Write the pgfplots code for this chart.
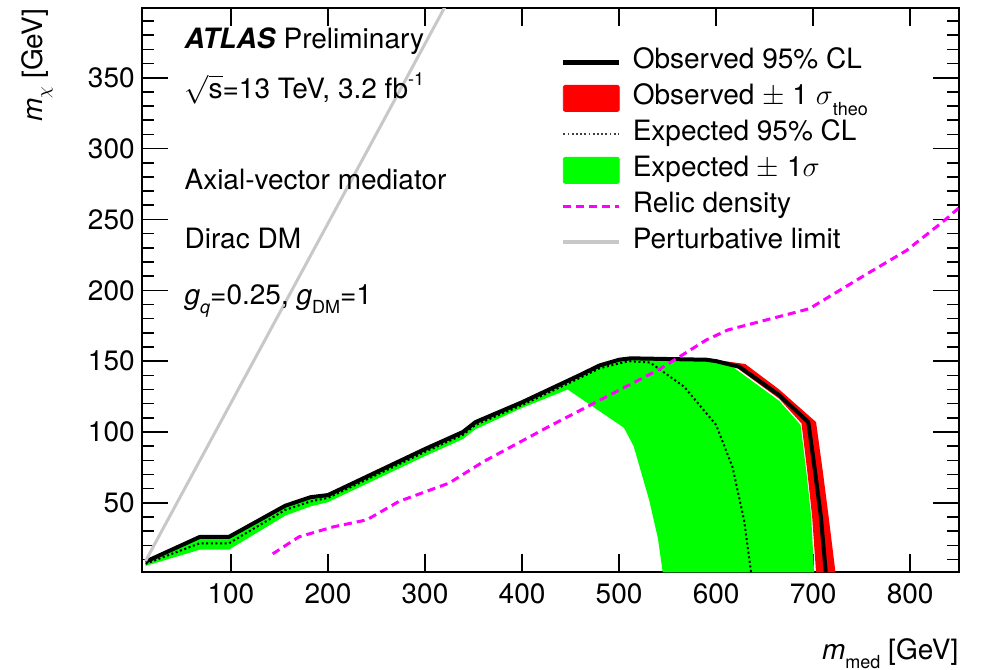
\documentclass[border=0pt]{standalone}
\usepackage{fontspec}
\setmainfont{TeX Gyre Heros}
\usepackage{pgfplots}
\pgfplotsset{compat=1.18}

\definecolor{bandgreen}{RGB}{0,255,0}
\definecolor{bandred}{RGB}{255,0,0}
\definecolor{relicmagenta}{RGB}{255,0,255}
\definecolor{pertgray}{RGB}{200,200,200}

% lowered / raised small indices in the ROOT style
\newcommand{\lowsub}[2][0.32em]{\raisebox{-#1}{\fontsize{9}{9}\selectfont #2}}
\newcommand{\highsup}[1]{\raisebox{0.45em}{\fontsize{9}{9}\selectfont #1}}

% observed 95% CL limit contour
\pgfplotstableread{
x y
12 8.5
68 26
98 26
156 48
182 54
200 55.5
260 75
300 88
339 100
352 107
400 121
459 140
480 147
500 151
512 152
590 151
600 150
624 146
665 126
695 107
702 72
708 40
713 1
}\observed

% expected 95% CL limit contour
\pgfplotstableread{
x y
12 7
68 21.5
98 21.5
156 45
182 51
200 53.5
300 86
339 98
352 105
400 119
459 138
480 145
510 150
532 149
567 132
600 105
617 75
629 37
636 1
}\expected

% expected +-1 sigma band (closed outline)
\pgfplotstableread{
x y
12 9
68 26
98 26
156 48
182 54
200 55.5
260 75
300 88
339 100
352 107
400 121
459 140
480 147
500 151
512 152
590 151
600 150
615 147
665 122
687 105
693 72
698 40
701 1
545 1
540 25
531 52
515 90
505 103
447 130
400 117
352 102
339 95
300 83
200 50.5
182 47.5
156 41
98 17
68 17
12 5.5
}\expband

% observed +-1 sigma(theo) band (closed outline)
\pgfplotstableread{
x y
598 151
630 148
665 130
703 107
710 72
716 40
723 1
703 1
699 40
694 72
688 106
665 123.5
615 148.5
598 150.5
}\theoband

% relic density line
\pgfplotstableread{
x y
143 14
170 26
205 33
240 38
273 51
325 64
360 79
428 104
476 121
541 144
590 165
612 172
696 187
754 211
796 228
833 248
850 258
}\relic

% perturbative unitarity limit
\pgfplotstableread{
x y
12 9
330 412
}\pertlimit

\begin{document}
\begin{tikzpicture}
\begin{axis}[
  scale only axis,
  width=408.5pt, height=282pt,
  xmin=8, xmax=850, ymin=1, ymax=399,
  axis line style={line width=1pt},
  tick align=inside,
  xtick=\empty, ytick={50,100,...,350},
  minor xtick={20,40,...,840},
  minor ytick={10,20,...,390},
  extra x ticks={100,200,...,800},
  extra x tick style={major tick length=9pt},
  major tick length=13pt, minor tick length=6pt,
  every tick/.style={black, line width=0.8pt},
  font=\fontsize{14}{16.8}\selectfont,
  /pgf/number format/assume math mode=true,
  xticklabel style={inner sep=0pt, yshift=-5.3pt, font=\fontsize{14}{16.8}\selectfont},
  yticklabel style={inner sep=0pt, xshift=-3.3pt, font=\fontsize{14}{16.8}\selectfont},
  xlabel={\textit{m}\lowsub{med} [GeV]},
  ylabel={\textit{m}\lowsub[0.25em]{$\chi$} [GeV]},
  xlabel style={at={(axis description cs:1,-0.155)}, anchor=base east, inner sep=0pt},
  ylabel style={at={(axis description cs:-0.122,1.0)}, anchor=base east, inner sep=0pt},
  legend style={at={(axis description cs:0.513,0.936)}, anchor=north west,
    draw=none, fill=none, inner sep=0pt, outer sep=0pt, row sep=0pt,
    column sep=5.5pt, font=\fontsize{14}{16.8}\selectfont,
    nodes={inner sep=0pt, text height=12pt, text depth=6pt}},
  legend cell align=left,
  clip=true,
]
% bands
\addplot[draw=none, fill=bandgreen, forget plot] table {\expband};
\addplot[draw=none, fill=bandred, forget plot] table {\theoband};
% lines
\addplot[black, line width=1pt, dash pattern=on 1pt off 1.3pt, forget plot] table {\expected};
\addplot[black, line width=2pt, line join=round, forget plot] table {\observed};
\addplot[relicmagenta, line width=1.5pt, dash pattern=on 4pt off 2.5pt, forget plot] table {\relic};
\addplot[pertgray, line width=1.5pt, forget plot] table {\pertlimit};

% legend
\addlegendimage{legend image code/.code={\draw[black, line width=2.5pt] (0pt,0pt) -- (28pt,0pt);}}
\addlegendentry{Observed 95\% CL}
\addlegendimage{legend image code/.code={\fill[bandred, rounded corners=1pt] (0pt,-6.5pt) rectangle (28pt,6.5pt);}}
\addlegendentry{Observed $\pm$ 1 $\sigma$\lowsub[0.4em]{theo}}
\addlegendimage{legend image code/.code={\draw[black!75, line width=0.9pt, dash pattern=on 0.9pt off 1.2pt] (0pt,0pt) -- (28pt,0pt);}}
\addlegendentry{Expected 95\% CL}
\addlegendimage{legend image code/.code={\fill[bandgreen, rounded corners=1pt] (0pt,-6.5pt) rectangle (28pt,6.5pt);}}
\addlegendentry{Expected $\pm$ 1$\sigma$}
\addlegendimage{legend image code/.code={\draw[relicmagenta, line width=1.5pt, dash pattern=on 4pt off 2.5pt] (0pt,0pt) -- (28pt,0pt);}}
\addlegendentry{Relic density}
\addlegendimage{legend image code/.code={\draw[pertgray, line width=2pt] (0pt,0pt) -- (28pt,0pt);}}
\addlegendentry{Perturbative limit}

% annotations
\node[anchor=base west, inner sep=0pt] at (axis description cs:0.052,0.929) {\textbf{\textit{ATLAS}}~Preliminary};
\node[anchor=base west, inner sep=0pt] at (axis description cs:0.052,0.840) {$\sqrt{\mbox{s}}$=13 TeV, 3.2 fb\highsup{-1}};
\node[anchor=base west, inner sep=0pt] at (axis description cs:0.052,0.678) {Axial-vector mediator};
\node[anchor=base west, inner sep=0pt] at (axis description cs:0.052,0.574) {Dirac DM};
\node[anchor=base west, inner sep=0pt] at (axis description cs:0.052,0.474) {\textit{g}\lowsub{\textit{q}}=0.25, \textit{g}\lowsub{DM}=1};
\end{axis}
\pgfresetboundingbox
\path[use as bounding box] (current axis.south west) ++(-70.85pt,-48.85pt) rectangle ++(491pt,335pt);
\end{tikzpicture}
\end{document}
